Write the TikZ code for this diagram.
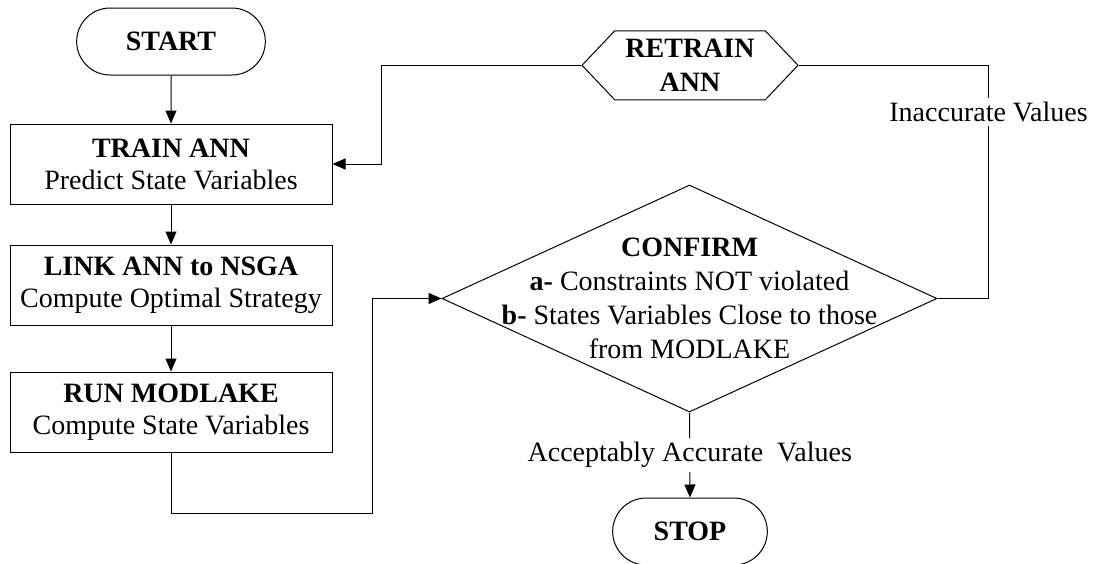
\documentclass[tikz,border=0pt]{standalone}
\usepackage{fontspec}
\setmainfont{Liberation Serif}
\usetikzlibrary{arrows.meta,shapes.misc,shapes.geometric,shapes.symbols}

\begin{document}
\begin{tikzpicture}[x=0.5pt,y=-0.5pt,line width=0.5pt,
		font=\fontsize{14}{16}\selectfont,
		arr/.style={-{Triangle[length=6.5pt,width=5.5pt]}},
		term/.style={draw,rounded rectangle,minimum height=33.5pt,font=\fontsize{14}{16}\selectfont\bfseries},
		stepbox/.style={draw,rectangle,minimum width=161pt,minimum height=40pt,align=center},
		decision/.style={draw,diamond,inner sep=0pt,minimum width=247.5pt,minimum height=113.5pt},
		retrainbox/.style={draw,signal,signal to=east and west,signal pointer angle=93,
			minimum width=108pt,minimum height=34.5pt,align=center,font=\fontsize{14}{17}\selectfont\bfseries},
		lbl/.style={fill=white,inner sep=2pt}]
			\clip (0,0) rectangle (1093,563);
			% blocks
			\node [term,minimum width=101pt] (start) at (171,41.5) {START};
			\node [stepbox] (train) at (171,164) {\textbf{TRAIN ANN}\\Predict State Variables};
			\node [stepbox] (link) at (171,285) {\textbf{LINK ANN to NSGA}\\Compute Optimal Strategy};
			\node [stepbox] (run) at (171,412) {\textbf{RUN MODLAKE}\\Compute State Variables};
			\node [decision] (cf) at (689.5,298.5) {};
			\node [align=center,font=\fontsize{14}{17}\selectfont] (cftext) at (cf.center)
				{\textbf{CONFIRM}\\\textbf{a-} Constraints NOT violated\\\textbf{b-} States Variables Close to those\\from MODLAKE};
			\node [retrainbox] (retrain) at (690,65.3) {RETRAIN\\ANN};
			\node [term,minimum width=84pt] (stop) at (690,531.5) {STOP};
			% connectors
			\draw [arr] (start) -- (train);
			\draw [arr] (train) -- (link);
			\draw [arr] (link) -- (run);
			\coordinate (jog) at (372,513);
			\draw [arr] (run.south) |- (jog) |- (cf.west);
			\draw [arr] (cf.south) -- node [lbl] {Acceptably Accurate~ Values} (stop.north);
			\draw (cf.east) -- ++(51,0) |- node [lbl,pos=0.4] {Inaccurate Values} (retrain.east);
			\draw [arr] (retrain.west) -- ++(-200,0) |- (train.east);
		\end{tikzpicture}
\end{document}
